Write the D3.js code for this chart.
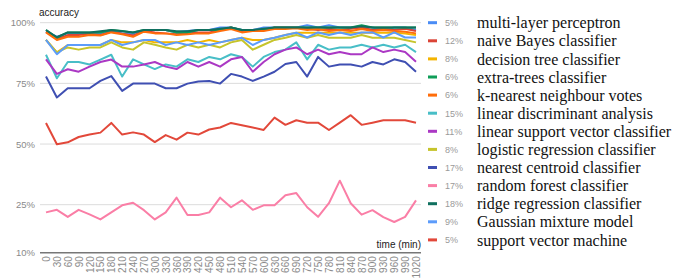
<!DOCTYPE html>
<html><head><meta charset="utf-8">
<script src="https://cdn.jsdelivr.net/npm/d3@7"></script>
<style>body{margin:0;background:#fff}svg{display:block}</style>
</head><body>
<script>
const times = [0,30,60,90,120,150,180,210,240,270,300,330,360,390,420,450,480,510,540,570,600,630,660,690,720,750,780,810,840,870,900,930,960,990,1020];
const yTicks = [10,25,50,75,100];
const names = ["multi-layer perceptron","naive Bayes classifier","decision tree classifier","extra-trees classifier","k-nearest neighbour votes","linear discriminant analysis","linear support vector classifier","logistic regression classifier","nearest centroid classifier","random forest classifier","ridge regression classifier","Gaussian mixture model","support vector machine"];
const shares = ["5%","12%","8%","6%","6%","15%","11%","8%","17%","17%","18%","9%","5%"];
const colors = ["#4a8cf5","#db4437","#f4b400","#0f9d58","#ff6d0a","#48bec7","#ab38c4","#c6c42b","#3f4fb2","#fa7ea6","#10705f","#5c9cfb","#e2483a"];

const mlp        = [96.3,94.2,95.6,95.6,95.6,95.6,96.6,95.6,95.2,96.6,97,97,96,96.6,97,97,98,98,97,97,98,98,98,98,99,98,99,98,98,98,98,97,98,98,97];
const naiveBayes = [96.3,93.3,94.9,94.9,95.5,94.9,96.3,95.5,94.7,96.6,96,95.6,95.2,95.6,96,96,97,98,96.6,97,97,98,98,98,97.5,97,97.5,97,97.5,98,97,97.5,97,97.5,96.6];
const decisionTree=[92.9,87.8,90.8,90.8,90.8,90.8,92.9,91.9,91.9,92.9,91.9,91.9,91.9,92.9,91.9,92.9,91.9,92.9,93.8,92.9,92.9,93.8,94.9,95.9,95.9,95.9,95.9,95.9,95.9,95.9,95.9,95.9,95.9,95.5,94.9];
const extraTrees = [97,93.8,96,96,96,96,97,96.6,96,97,97,97,96,96,97,97,97,98,97,97,97,98,98,98,98,98,98,98,98,99,98,98,98,98,98];
const knn        = [96,92.9,94.2,94.2,94.9,94.7,96,95.2,94.2,96.3,95.6,95.6,94.9,95.2,95.6,95.6,96.6,97.4,96,96.6,96.6,97.4,97.4,97.7,97,97.4,96.6,97,96.6,97.4,96.6,97,96.6,96.3,95.6];
const lda        = [86.8,77.1,83.8,83.8,82.8,84.8,86.8,77.8,84.9,82.8,80.9,82.8,81.9,84.9,83.8,85.9,84.9,87,85.9,81.9,85.9,87.9,88.9,91.9,84.9,90.9,88.9,89.8,89.8,90.9,89.8,90.9,89.8,90.9,87.9];
const linearSvc  = [84.9,78.9,80.8,79.8,81.9,83.8,84.8,81.9,81.9,82.8,83.8,81.9,80.9,83.8,81.9,83.8,81.9,84.9,85.9,79.8,83.8,87,88.9,89.8,87,88.9,87,87.9,87,87,89.8,87.9,88.9,87.9,83.9];
const logistic   = [92.9,87.8,89.8,88.9,89.8,89.8,91.9,89.8,88.9,91.9,90.9,89.8,88.9,90.9,89.8,90.9,89.8,91.9,92.9,88.9,90.9,92.9,93.8,94.9,93.8,94.9,93.8,93.8,93.8,94.9,93.8,93.8,93.8,92.9,91.9];
const centroid   = [77.8,69.2,73,73,73,76,78,71.9,74.9,74.9,74.9,73,73,74.9,75.8,76,74.9,78.9,77.8,76,77.8,79.8,83,83.8,77.8,85.9,81.9,82.8,82.8,81.9,83.8,82.8,84.9,83.8,79.8];
const randomForest=[22.6,23.4,21.2,23.4,22,20.4,22.6,24.8,25.8,23.3,20.4,22.6,27.9,21.8,21.8,22.6,27.9,24.2,26.8,23.4,24.8,24.8,28.9,29.8,24.2,21.2,25.6,34.9,25.6,21.9,23.3,21.1,19.6,21.2,26.8];
const ridge      = [97,94,96,96,96,96.5,97,96.5,96,97,97,97,96.5,96.5,97,97,97.5,98,97,97,97.5,98,98,98,98,98,98,98,98,98.5,98,98,98,98,98];
const gaussian   = [92.9,87,90.8,90.8,90.8,90.8,92.9,90.8,91.9,92.9,92.9,90.8,91.9,90.8,91.9,90.8,91.9,92.9,93.8,90.8,92.9,93.8,94.9,95.9,93.9,96,94.9,96,94.9,96,96,93.9,96,93.9,93.9];
const svm        = [58.7,49.9,50.7,52.9,53.9,54.7,58.7,53.9,54.8,53.9,50.8,53.7,51.8,54.7,53.9,56,56.8,58.7,57.7,56.8,55.8,60.9,57.9,59.8,58.8,58.8,55.8,58.8,61.9,57.9,58.8,59.8,59.8,59.8,58.8];

const seriesValues = [mlp,naiveBayes,decisionTree,extraTrees,knn,lda,linearSvc,logistic,centroid,randomForest,ridge,gaussian,svm];

const W = 689, H = 280;
const svg = d3.select("body").append("svg").attr("width", W).attr("height", H);
svg.append("rect").attr("width", W).attr("height", H).attr("fill", "#fff");

const x = d3.scaleLinear().domain([0, 1020]).range([46, 416]);
const y = d3.scaleLinear().domain([10, 25, 100]).range([252.7, 204.7, 22.7]);
const gridL = 40, gridR = 421;

// gridlines
svg.append("g").selectAll("line").data(yTicks.filter(d => d > 10)).join("line")
  .attr("x1", gridL).attr("x2", gridR)
  .attr("y1", d => y(d)).attr("y2", d => y(d))
  .attr("stroke", "#dcdcdc").attr("stroke-width", 1);

// y axis labels
const yAxis = d3.axisLeft(y).tickValues(yTicks).tickSize(0).tickPadding(0).tickFormat(d => d + "%");
const gy = svg.append("g").attr("transform", "translate(35,0)").call(yAxis);
gy.select(".domain").remove();
gy.selectAll("text").attr("fill", "#8a8a8a").attr("font-family", "Liberation Sans, Arial, sans-serif").attr("font-size", 9.5);

// lines
const line = d3.line().x((d, i) => x(times[i])).y(d => y(d));
svg.append("g").selectAll("path").data(seriesValues).join("path")
  .attr("d", d => line(d)).attr("fill", "none")
  .attr("stroke", (d, i) => colors[i]).attr("stroke-width", 2).attr("stroke-linejoin", "round");

// baseline
svg.append("line").attr("x1", gridL).attr("x2", gridR).attr("y1", y(10)).attr("y2", y(10))
  .attr("stroke", "#777").attr("stroke-width", 1.6);

// x axis labels
const xAxis = d3.axisBottom(x).tickValues(times).tickSize(0).tickPadding(0).tickFormat(d3.format("d"));
const gx = svg.append("g").attr("transform", `translate(0,${y(10)})`).call(xAxis);
gx.select(".domain").remove();
gx.selectAll("text")
  .attr("fill", "#8a8a8a").attr("font-family", "Liberation Sans, Arial, sans-serif").attr("font-size", 10)
  .attr("text-anchor", "end").attr("dy", null).attr("y", null)
  .attr("transform", "translate(3.5,3.5) rotate(-90)");

// axis titles
svg.append("text").attr("x", 39).attr("y", 16).text("accuracy")
  .attr("font-family", "Liberation Sans, Arial, sans-serif").attr("font-size", 10).attr("fill", "#222");
svg.append("text").attr("x", 421).attr("y", 248).attr("text-anchor", "end").text("time (min)")
  .attr("font-family", "Liberation Sans, Arial, sans-serif").attr("font-size", 10).attr("fill", "#222");

// legend
const rowY = d3.scaleLinear().domain([0, 12]).range([22.7, 22.7 + 12 * 18.1]);
const lg = svg.append("g").selectAll("g").data(names).join("g")
  .attr("transform", (d, i) => `translate(0,${rowY(i)})`);
lg.append("rect").attr("x", 428).attr("y", -1.5).attr("width", 9).attr("height", 3).attr("fill", (d, i) => colors[i]);
lg.append("text").attr("x", 445).attr("y", 3.3).text((d, i) => shares[i])
  .attr("font-family", "Liberation Sans, Arial, sans-serif").attr("font-size", 9).attr("fill", "#9a9a9a");
lg.append("text").attr("x", 477).attr("y", 5.6).text(d => d)
  .attr("font-family", "Liberation Serif, Times New Roman, serif").attr("font-size", 16).attr("fill", "#111");
</script>
</body></html>
